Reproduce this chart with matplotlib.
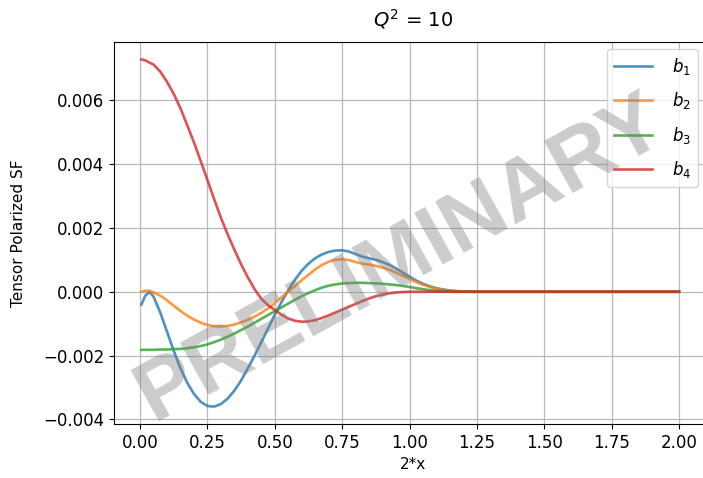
import matplotlib
matplotlib.use('Agg')
import matplotlib.pyplot as plt

# 2*x grid the curves were read on
x = [0.005, 0.02, 0.035, 0.05, 0.075, 0.10, 0.125, 0.15, 0.175, 0.20,
     0.225, 0.25, 0.275, 0.30, 0.325, 0.35, 0.375, 0.40, 0.425, 0.45,
     0.475, 0.50, 0.525, 0.55, 0.575, 0.60, 0.625, 0.65, 0.675, 0.70,
     0.725, 0.75, 0.775, 0.80, 0.825, 0.85, 0.875, 0.90, 0.925, 0.95,
     0.975, 1.00, 1.025, 1.05, 1.075, 1.10, 1.125, 1.15, 1.175, 1.20,
     1.225, 1.25, 2.00]

# values in units of 1e-3
b1 = [-0.40, -0.12, 0.00, -0.15, -0.65, -1.25, -1.85, -2.40, -2.85, -3.20,
      -3.45, -3.58, -3.60, -3.52, -3.35, -3.10, -2.78, -2.40, -2.00, -1.58,
      -1.15, -0.72, -0.32, 0.05, 0.38, 0.66, 0.88, 1.05, 1.17, 1.25,
      1.29, 1.30, 1.26, 1.18, 1.10, 1.05, 1.00, 0.93, 0.84, 0.73,
      0.60, 0.47, 0.35, 0.25, 0.17, 0.11, 0.07, 0.04, 0.02, 0.01,
      0.0, 0.0, 0.0]
b2 = [0.00, 0.03, 0.03, -0.02, -0.12, -0.27, -0.44, -0.60, -0.75, -0.87,
      -0.97, -1.04, -1.08, -1.09, -1.07, -1.03, -0.96, -0.88, -0.78, -0.66,
      -0.52, -0.36, -0.18, 0.00, 0.18, 0.36, 0.53, 0.70, 0.84, 0.94,
      1.00, 1.02, 0.99, 0.93, 0.88, 0.85, 0.81, 0.76, 0.69, 0.60,
      0.50, 0.40, 0.30, 0.22, 0.15, 0.10, 0.06, 0.03, 0.015, 0.005,
      0.0, 0.0, 0.0]
b3 = [-1.82, -1.82, -1.82, -1.82, -1.81, -1.81, -1.80, -1.79, -1.77, -1.74,
      -1.70, -1.65, -1.58, -1.50, -1.41, -1.31, -1.20, -1.09, -0.97, -0.85,
      -0.73, -0.61, -0.49, -0.37, -0.25, -0.14, -0.04, 0.05, 0.13, 0.19,
      0.23, 0.26, 0.27, 0.28, 0.28, 0.27, 0.26, 0.25, 0.23, 0.21,
      0.18, 0.15, 0.11, 0.08, 0.05, 0.03, 0.015, 0.005, 0.0, 0.0,
      0.0, 0.0, 0.0]
b4 = [7.28, 7.25, 7.18, 7.12, 6.90, 6.58, 6.20, 5.75, 5.22, 4.68,
      4.10, 3.50, 2.90, 2.32, 1.80, 1.32, 0.86, 0.45, 0.08, -0.22,
      -0.42, -0.57, -0.72, -0.84, -0.91, -0.94, -0.93, -0.89, -0.82, -0.74,
      -0.65, -0.56, -0.47, -0.38, -0.29, -0.21, -0.14, -0.09, -0.05, -0.02,
      -0.01, 0.0, 0.0, 0.0, 0.0, 0.0, 0.0, 0.0, 0.0, 0.0,
      0.0, 0.0, 0.0]

labels = ['$b_1$', '$b_2$', '$b_3$', '$b_4$']
xticks = [0.0, 0.25, 0.5, 0.75, 1.0, 1.25, 1.5, 1.75, 2.0]

fig = plt.figure(figsize=(7.03, 4.78), dpi=100)
ax = fig.add_axes([0.162, 0.113, 0.85, 0.799])

for ys, lab in zip([b1, b2, b3, b4], labels):
    ax.plot(x, [v * 1e-3 for v in ys], lw=1.9, alpha=0.8, label=lab)

ax.set_xlim(-0.097, 2.12)
ax.set_xticks(xticks)
ax.tick_params(labelsize=12)
ax.grid(True, color='#b8b8b8', lw=0.9)
ax.set_title('$Q^2$ = 10', fontsize=14, pad=11)
ax.set_xlabel('2*x', fontsize=11)
ax.set_ylabel('Tensor Polarized SF', fontsize=11, labelpad=12)
ax.legend(loc='upper right', bbox_to_anchor=(0.983, 0.99), fontsize=12,
          labelspacing=0.8, handlelength=2.3, handletextpad=1.2,
          borderaxespad=0.2)

# watermark
ax.text(0.48, 0.43, 'PRELIMINARY', transform=ax.transAxes, fontsize=62,
        family='Liberation Sans', weight='bold', color='gray', alpha=0.4,
        rotation=29, ha='center', va='center', zorder=10)

fig.savefig('out.png', dpi=100)
